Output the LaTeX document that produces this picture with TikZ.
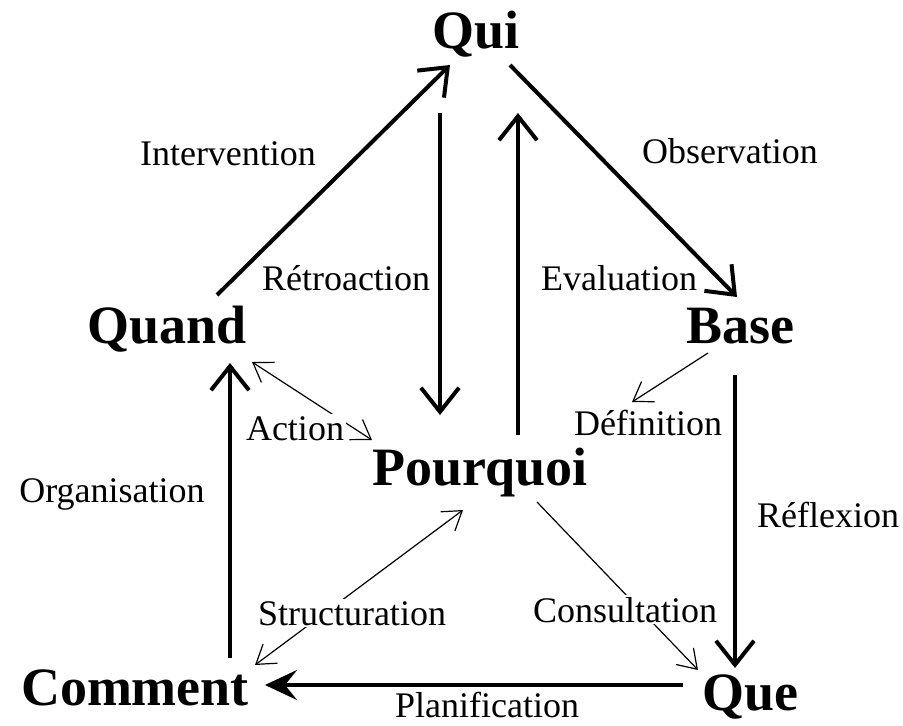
\documentclass[tikz,border=0pt]{standalone}
\usepackage{fontspec}
\setmainfont{Liberation Serif}
\usetikzlibrary{arrows.meta}

\tikzset{
  keyword/.style={font=\bfseries\fontsize{54}{60}\selectfont, inner sep=0pt, anchor=base},
  verbe/.style={font=\fontsize{36}{40}\selectfont, inner sep=2pt, anchor=base, fill=white},
  bigarrow/.style={line width=4pt, -{Straight Barb[length=24pt,width=38pt]}},
  fatarrow/.style={line width=4pt, -{Stealth[length=32pt,width=30pt,inset=12pt]}},
  thinarrow/.style={line width=1.2pt, -{Straight Barb[length=18pt,width=24pt]}},
  thinboth/.style={line width=1.2pt, {Straight Barb[length=18pt,width=24pt]}-{Straight Barb[length=18pt,width=24pt]}}
}

\begin{document}
\begin{tikzpicture}[x=1pt, y=-1pt]
                    \useasboundingbox (0,0) rectangle (903,726);
                    % Questions
                    \node[keyword] (qui) at (476,48) {Qui};
                    \node[keyword] (quand) at (167,343) {Quand};
                    \node[keyword] (base) at (740,343) {Base};
                    \node[keyword] (pourquoi) at (480,485) {Pourquoi};
                    \node[keyword] (comment) at (135,705) {Comment};
                    \node[keyword] (que) at (750,710) {Que};
                    % Inner links (thin arrows)
                    \draw[thinboth] ([shift={(85,19)}]quand.base) -- ([shift={(-108,-45)}]pourquoi.base);
                    \draw[thinarrow] ([shift={(-32,10)}]base.base) -- ([shift={(152,-83)}]pourquoi.base);
                    \draw[thinboth] ([shift={(120,-40)}]comment.base) -- ([shift={(-17,25)}]pourquoi.base);
                    \draw[thinarrow] ([shift={(57,17)}]pourquoi.base) -- ([shift={(-52,-40)}]que.base);
                    % Labels
                    \node[verbe] (intervention) at (228,165) {Intervention};
                    \node[verbe] (observation) at (730,163) {Observation};
                    \node[verbe] (retroaction) at (346,290) {Rétroaction};
                    \node[verbe] (evaluation) at (619,290) {Evaluation};
                    \node[verbe] (action) at (295,440) {Action};
                    \node[verbe] (definition) at (648,435) {Définition};
                    \node[verbe] (organisation) at (112,502) {Organisation};
                    \node[verbe] (reflexion) at (828,527) {Réflexion};
                    \node[verbe] (structuration) at (352,625) {Structuration};
                    \node[verbe] (consultation) at (625,622) {Consultation};
                    \node[verbe] (planification) at (487,717) {Planification};
                    % Outer cycle (thick arrows)
                    \draw[bigarrow] ([shift={(50,-48)}]quand.base) -- ([shift={(-26,17)}]qui.base);
                    \draw[bigarrow] ([shift={(34,17)}]qui.base) -- ([shift={(-3,-46)}]base.base);
                    \draw[bigarrow] ([shift={(-5,32)}]base.base) -- ([shift={(-15,-42)}]que.base);
                    \draw[fatarrow] ([shift={(-67,-25)}]que.base) -- ([shift={(130,-20)}]comment.base);
                    \draw[bigarrow] ([shift={(95,-47)}]comment.base) -- ([shift={(63,20)}]quand.base);
                    % Qui <-> Pourquoi
                    \draw[bigarrow] ([shift={(-36,65)}]qui.base) -- ([shift={(-40,-70)}]pourquoi.base);
                    \draw[bigarrow] ([shift={(38,-50)}]pourquoi.base) -- ([shift={(42,65)}]qui.base);
                \end{tikzpicture}
\end{document}
